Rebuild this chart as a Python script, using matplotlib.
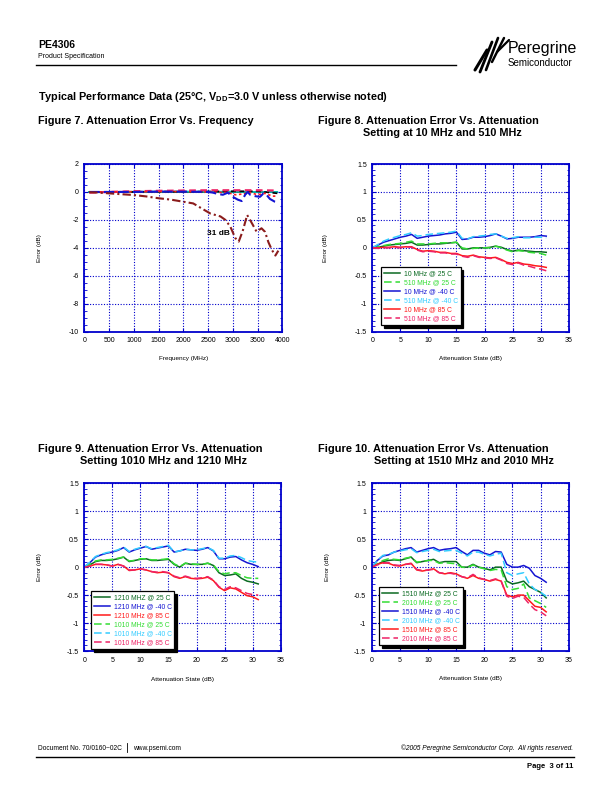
import matplotlib
matplotlib.use("Agg")
import matplotlib.pyplot as plt
from matplotlib.lines import Line2D
from matplotlib.ticker import MultipleLocator

plt.rcParams['font.family'] = ['Liberation Sans', 'DejaVu Sans']
plt.rcParams['axes.unicode_minus'] = False
plt.rcParams['mathtext.fontset'] = 'custom'
plt.rcParams['mathtext.rm'] = 'Liberation Sans'
plt.rcParams['mathtext.bf'] = 'Liberation Sans:bold'

# ---- Figure 7 data: error vs frequency ----
f7_x = [100, 500, 1000, 1500, 2000, 2500, 3000, 3500, 3900]
e7_black = [-0.02, -0.02, 0.0, 0.02, 0.02, 0.03, 0.05, 0.05, -0.1]
e7_green = [0.0, 0.0, 0.0, 0.0, 0.0, 0.0, 0.0, 0.0, 0.0]
e7_cyan = [0.0, 0.0, 0.02, 0.03, 0.03, 0.02, 0.02, 0.0, 0.0]
e7_mag = [-0.05, 0.0, 0.05, 0.08, 0.1, 0.12, 0.12, 0.12, 0.1]

f7_red = [100, 1000, 2000, 2500, 2900, 3050, 3200, 3350, 3500, 3650, 3800, 3900]
e7_red = [0.0, 0.02, 0.03, 0.0, -0.05, -0.2, -0.15, -0.05, -0.2, -0.1, -0.3, -0.3]

f7_blue = [100, 500, 1000, 1500, 2000, 2500, 2600, 2700, 2800, 2900, 3000, 3100,
           3180, 3250, 3300, 3350, 3450, 3550, 3620, 3680, 3750, 3850, 3900]
e7_blue = [0, 0, 0, 0.02, 0.02, 0, -0.05, -0.15, -0.2, -0.05, -0.35, -0.55,
           -0.65, -0.2, 0, -0.2, -0.3, -0.35, -0.1, -0.2, -0.5, -0.7, -0.75]

f7_31 = [100, 300, 500, 700, 1000, 1250, 1500, 1750, 2000, 2200, 2400, 2550, 2650,
         2750, 2850, 2950, 3050, 3120, 3200, 3290, 3380, 3480, 3580, 3650, 3720,
         3790, 3860, 3920]
e7_31 = [-0.02, -0.05, -0.1, -0.15, -0.22, -0.32, -0.45, -0.55, -0.7, -0.82, -1.24,
         -1.55, -1.65, -1.75, -2.0, -2.48, -3.3, -3.55, -2.8, -1.65, -2.2, -2.84,
         -2.6, -2.85, -3.6, -4.15, -4.55, -4.2]

# ---- Figures 8-10 data: error vs attenuation state ----
att = list(range(32))

f8_10_25 = [0, 0.01, 0.03, 0.05, 0.06, 0.07, 0.08, 0.1, 0.05, 0.05, 0.06, 0.07, 0.07, 0.08, 0.09, 0.1,
            -0.02, -0.02, 0.0, 0.0, 0.0, 0.01, 0.03, 0.01, -0.03, -0.06, -0.04, -0.05, -0.06, -0.07, -0.07, -0.08]
f8_510_25 = [0, 0.02, 0.04, 0.06, 0.07, 0.08, 0.1, 0.12, 0.07, 0.07, 0.07, 0.08, 0.09, 0.09, 0.09, 0.1,
             0.0, -0.02, -0.01, 0.0, 0.0, 0.0, 0.03, 0.0, -0.04, -0.07, -0.05, -0.06, -0.08, -0.09, -0.1, -0.13]
f8_10_m40 = [0, 0.05, 0.1, 0.13, 0.16, 0.19, 0.21, 0.24, 0.17, 0.19, 0.21, 0.22, 0.23, 0.25, 0.26, 0.28,
             0.15, 0.16, 0.19, 0.19, 0.2, 0.22, 0.25, 0.21, 0.16, 0.17, 0.19, 0.19, 0.19, 0.2, 0.22, 0.21]
f8_510_m40 = [0, 0.06, 0.12, 0.16, 0.19, 0.22, 0.24, 0.27, 0.21, 0.22, 0.24, 0.25, 0.26, 0.27, 0.28, 0.3,
              0.17, 0.16, 0.2, 0.21, 0.22, 0.24, 0.25, 0.21, 0.17, 0.18, 0.2, 0.18, 0.18, 0.19, 0.19, 0.18]
f8_10_85 = [0, 0.0, 0.01, 0.01, 0.02, 0.01, 0.02, 0.02, -0.03, -0.06, -0.05, -0.06, -0.08, -0.08, -0.1, -0.1,
            -0.14, -0.15, -0.13, -0.16, -0.17, -0.18, -0.17, -0.21, -0.26, -0.28, -0.26, -0.29, -0.3, -0.32, -0.33, -0.35]
f8_510_85 = [0, -0.01, 0.0, 0.0, 0.01, 0.0, 0.02, 0.01, -0.04, -0.07, -0.06, -0.07, -0.09, -0.09, -0.11, -0.11,
             -0.15, -0.17, -0.14, -0.17, -0.18, -0.19, -0.18, -0.22, -0.28, -0.3, -0.27, -0.31, -0.33, -0.36, -0.38, -0.41]

f9_1210_25 = [0, 0.04, 0.1, 0.12, 0.12, 0.13, 0.15, 0.18, 0.1, 0.12, 0.14, 0.15, 0.12, 0.12, 0.13, 0.14,
              0.05, 0.0, 0.07, 0.05, 0.05, 0.05, 0.07, 0.03, -0.1, -0.15, -0.14, -0.12, -0.2, -0.25, -0.27, -0.3]
f9_1210_m40 = [0, 0.08, 0.18, 0.22, 0.25, 0.27, 0.3, 0.35, 0.27, 0.31, 0.34, 0.37, 0.32, 0.34, 0.36, 0.38,
               0.27, 0.29, 0.32, 0.31, 0.3, 0.32, 0.35, 0.29, 0.15, 0.15, 0.18, 0.19, 0.13, 0.08, 0.05, 0.01]
f9_1210_85 = [0, 0.02, 0.05, 0.05, 0.04, 0.02, 0.05, 0.02, -0.06, -0.05, -0.03, -0.05, -0.08, -0.1, -0.09, -0.1,
              -0.17, -0.2, -0.17, -0.2, -0.21, -0.2, -0.18, -0.24, -0.36, -0.42, -0.37, -0.39, -0.45, -0.51, -0.53, -0.58]
f9_1010_25 = [0, 0.05, 0.11, 0.13, 0.13, 0.14, 0.16, 0.18, 0.11, 0.12, 0.15, 0.15, 0.13, 0.13, 0.14, 0.15,
              0.06, 0.01, 0.07, 0.06, 0.05, 0.05, 0.07, 0.04, -0.08, -0.12, -0.1, -0.1, -0.15, -0.19, -0.2, -0.2]
f9_1010_m40 = [0, 0.09, 0.19, 0.23, 0.26, 0.28, 0.31, 0.36, 0.28, 0.32, 0.35, 0.37, 0.33, 0.35, 0.37, 0.39,
               0.27, 0.29, 0.32, 0.31, 0.31, 0.33, 0.35, 0.3, 0.16, 0.16, 0.2, 0.21, 0.17, 0.12, 0.1, 0.09]
f9_1010_85 = [0, 0.02, 0.05, 0.05, 0.04, 0.02, 0.05, 0.02, -0.05, -0.05, -0.03, -0.05, -0.08, -0.09, -0.08, -0.1,
              -0.16, -0.19, -0.16, -0.19, -0.2, -0.19, -0.17, -0.23, -0.35, -0.4, -0.35, -0.37, -0.42, -0.47, -0.49, -0.5]

f10_1510_25 = [0, 0.05, 0.1, 0.12, 0.13, 0.12, 0.15, 0.18, 0.08, 0.1, 0.12, 0.14, 0.08, 0.1, 0.1, 0.1,
               0.0, 0.0, 0.05, 0.0, -0.02, -0.05, 0.0, 0.0, -0.25, -0.3, -0.28, -0.25, -0.35, -0.4, -0.45, -0.55]
f10_2010_25 = [0, 0.06, 0.12, 0.15, 0.14, 0.13, 0.16, 0.18, 0.09, 0.1, 0.12, 0.12, 0.07, 0.08, 0.07, 0.06,
               0.0, -0.01, 0.04, 0.0, -0.03, -0.06, -0.04, -0.05, -0.35, -0.4, -0.38, -0.3, -0.55, -0.6, -0.65, -0.72]
f10_1510_m40 = [0, 0.12, 0.2, 0.22, 0.27, 0.3, 0.33, 0.35, 0.27, 0.3, 0.33, 0.35, 0.3, 0.32, 0.33, 0.35,
                0.28, 0.22, 0.3, 0.3, 0.25, 0.22, 0.28, 0.27, 0.05, 0.0, 0.0, 0.03, -0.02, -0.15, -0.2, -0.27]
f10_2010_m40 = [0, 0.12, 0.21, 0.23, 0.27, 0.29, 0.31, 0.33, 0.26, 0.28, 0.3, 0.32, 0.28, 0.29, 0.3, 0.3,
                0.25, 0.2, 0.27, 0.27, 0.23, 0.2, 0.23, 0.25, -0.1, -0.15, -0.12, -0.1, -0.3, -0.4, -0.45, -0.52]
f10_1510_85 = [0, 0.05, 0.08, 0.07, 0.03, 0.02, 0.05, 0.07, -0.05, -0.07, -0.05, -0.03, -0.1, -0.12, -0.1, -0.12,
               -0.17, -0.2, -0.15, -0.2, -0.22, -0.25, -0.22, -0.25, -0.5, -0.53, -0.5, -0.5, -0.6, -0.7, -0.72, -0.8]
f10_2010_85 = [0, 0.04, 0.07, 0.08, 0.04, 0.03, 0.05, 0.06, -0.04, -0.06, -0.05, -0.04, -0.1, -0.11, -0.11, -0.13,
               -0.17, -0.19, -0.13, -0.19, -0.22, -0.24, -0.21, -0.25, -0.52, -0.56, -0.52, -0.54, -0.66, -0.76, -0.8, -0.87]

# colours
DKGREEN = '#0b6a22'
LIME = '#33dd33'
BLUE = '#1414d2'
CYAN = '#33ccff'
RED = '#ff1a1a'
PINK = '#ee2266'
AXBLUE = '#0000cc'
DASH = (0, (5, 2.5))

W, H = 612, 792
fig = plt.figure(figsize=(W / 100, H / 100), dpi=100)


def ptxt(x, y, s, **kw):
    kw.setdefault('va', 'center')
    return fig.text(x / W, 1 - y / H, s, **kw)


def pline(x0, y0, x1, y1, **kw):
    fig.add_artist(Line2D([x0 / W, x1 / W], [1 - y0 / H, 1 - y1 / H], transform=fig.transFigure, **kw))


def pax(left, top, right, bottom):
    return fig.add_axes([left / W, 1 - bottom / H, (right - left) / W, (bottom - top) / H])


def style_axes(ax, xlab, ylab, ylabx, xlaby):
    for s in ax.spines.values():
        s.set_color(AXBLUE)
        s.set_linewidth(1.3)
    ax.tick_params(which='both', direction='in', top=True, right=True, color=AXBLUE,
                   labelsize=5, pad=4)
    ax.tick_params(which='major', length=3, width=0.8)
    ax.tick_params(which='minor', length=1.8, width=0.6)
    ax.grid(True, which='major', color=AXBLUE, linestyle=(0, (1, 1.5)), linewidth=0.8)
    ax.set_xlabel(xlab, fontsize=4.6)
    ax.set_ylabel(ylab, fontsize=4.6)
    ax.yaxis.set_label_coords(ylabx, 0.5)
    ax.xaxis.set_label_coords(0.5, xlaby)


# ---- header ----
ptxt(38, 45, 'PE4306', fontsize=7.5, fontweight='bold')
ptxt(38, 57, 'Product Specification', fontsize=5)
pline(36, 65, 456, 65, color='k', lw=1.0)
# logo stripes
for i, (lx, ly0, ly1) in enumerate([(480, 70, 50), (485, 72, 42), (491, 70, 38), (497, 62, 38), (502, 52, 40)]):
    pline(lx - 5, ly0, lx + 7, ly1, color='k', lw=2.2 - 0.15 * i, solid_capstyle='round')
ptxt(508, 48, 'Peregrine', fontsize=11.5)
ptxt(508, 63, 'Semiconductor', fontsize=7, family=['Liberation Sans Narrow', 'Liberation Sans'])

ptxt(38, 97, r'Typical Performance Data (25°C, V$_{\mathbf{DD}}$=3.0 V unless otherwise noted)',
     fontsize=7.8, fontweight='bold')
ptxt(38, 121, 'Figure 7. Attenuation Error Vs. Frequency', fontsize=7.8, fontweight='bold')
ptxt(318, 121, 'Figure 8. Attenuation Error Vs. Attenuation', fontsize=7.8, fontweight='bold')
ptxt(363, 133, 'Setting at 10 MHz and 510 MHz', fontsize=7.8, fontweight='bold')
ptxt(38, 449, 'Figure 9. Attenuation Error Vs. Attenuation', fontsize=7.9, fontweight='bold')
ptxt(80, 461, 'Setting 1010 MHz and 1210 MHz', fontsize=7.9, fontweight='bold')
ptxt(318, 449, 'Figure 10. Attenuation Error Vs. Attenuation', fontsize=7.9, fontweight='bold')
ptxt(374, 461, 'Setting at 1510 MHz and 2010 MHz', fontsize=7.9, fontweight='bold')

# ---- Figure 7 ----
ax7 = pax(84.3, 164, 282.3, 331.7)
ax7.plot(f7_x, e7_green, color=DKGREEN, lw=1.2)
ax7.plot(f7_x, e7_cyan, color='#00bfbf', lw=1.2)
ax7.plot(f7_x, e7_black, color='k', lw=1.2, linestyle=(0, (3, 2)))
ax7.plot(f7_x, e7_mag, color=PINK, lw=1.6, linestyle=(0, (3, 2)))
ax7.plot(f7_red, e7_red, color=RED, lw=1.2, linestyle=(0, (1.5, 1.5)))
ax7.plot(f7_blue, e7_blue, color=BLUE, lw=1.5, linestyle=(0, (5, 2)))
ax7.plot(f7_31, e7_31, color='#8b1c1c', lw=1.5, linestyle=(0, (4, 1.5, 1, 1.5)))
ax7.text(2480, -3.0, '31 dB', fontsize=6, fontweight='bold', va='center', ha='left')
ax7.set_xlim(0, 4000)
ax7.set_ylim(-10, 2)
ax7.xaxis.set_major_locator(MultipleLocator(500))
ax7.yaxis.set_major_locator(MultipleLocator(2))
ax7.yaxis.set_minor_locator(MultipleLocator(0.5))
style_axes(ax7, 'Frequency (MHz)', 'Error (dB)', -0.214, -0.145)


def att_panel(box, series, ylabx, xlaby, legend_anchor):
    ax = pax(*box)
    for vals, label, color, ls in series:
        ax.plot(att, vals, color=color, lw=1.1, linestyle=ls, label=label)
    ax.set_xlim(0, 35)
    ax.set_ylim(-1.5, 1.5)
    ax.xaxis.set_major_locator(MultipleLocator(5))
    ax.yaxis.set_minor_locator(MultipleLocator(0.1))
    ax.set_yticks([-1.5, -1, -0.5, 0, 0.5, 1, 1.5])
    ax.set_yticklabels(['-1.5', '-1', '-0.5', '0', '0.5', '1', '1.5'])
    style_axes(ax, 'Attenuation State (dB)', 'Error (dB)', ylabx, xlaby)
    leg = ax.legend(loc='lower left', bbox_to_anchor=legend_anchor, fontsize=4.9,
                    frameon=True, fancybox=False, edgecolor='k', framealpha=1,
                    shadow={'color': 'k', 'alpha': 1}, handlelength=2.4,
                    labelspacing=0.3, borderpad=0.4, handletextpad=0.55,
                    borderaxespad=0, labelcolor='linecolor')
    leg.get_frame().set_linewidth(0.9)
    return ax


att_panel((372.3, 164, 568.7, 331.7), [
    (f8_10_25, '10 MHz @ 25 C', DKGREEN, '-'),
    (f8_510_25, '510 MHz @ 25 C', LIME, DASH),
    (f8_10_m40, '10 MHz @ -40 C', BLUE, '-'),
    (f8_510_m40, '510 MHz @ -40 C', CYAN, DASH),
    (f8_10_85, '10 MHz @ 85 C', RED, '-'),
    (f8_510_85, '510 MHz @ 85 C', PINK, DASH),
], -0.226, -0.145, (0.044, 0.04))

att_panel((84.3, 483.3, 280.7, 651), [
    (f9_1210_25, '1210 MHZ @ 25 C', DKGREEN, '-'),
    (f9_1210_m40, '1210 MHz @ -40 C', BLUE, '-'),
    (f9_1210_85, '1210 MHz @ 85 C', RED, '-'),
    (f9_1010_25, '1010 MHz @ 25 C', LIME, DASH),
    (f9_1010_m40, '1010 MHz @ -40 C', CYAN, DASH),
    (f9_1010_85, '1010 MHz @ 85 C', PINK, DASH),
], -0.214, -0.153, (0.034, 0.012))

att_panel((371.7, 483.3, 568.7, 651), [
    (f10_1510_25, '1510 MHz @ 25 C', DKGREEN, '-'),
    (f10_2010_25, '2010 MHz @ 25 C', LIME, DASH),
    (f10_1510_m40, '1510 MHz @ -40 C', BLUE, '-'),
    (f10_2010_m40, '2010 MHz @ -40 C', CYAN, DASH),
    (f10_1510_85, '1510 MHz @ 85 C', RED, '-'),
    (f10_2010_85, '2010 MHz @ 85 C', PINK, DASH),
], -0.21, -0.15, (0.037, 0.035))

# ---- footer ----
ptxt(38, 748, 'Document No. 70/0160~02C', fontsize=4.8)
pline(127, 743, 127, 752, color='k', lw=0.6)
ptxt(133, 748, 'www.psemi.com', fontsize=4.8)
ptxt(573, 748, '©2005 Peregrine Semiconductor Corp.  All rights reserved.', fontsize=4.8,
     style='italic', ha='right')
pline(36, 757, 574, 757, color='k', lw=1.0)
ptxt(573, 766, 'Page  3 of 11', fontsize=5.5, fontweight='bold', ha='right')

fig.savefig('out.png', dpi=100)
